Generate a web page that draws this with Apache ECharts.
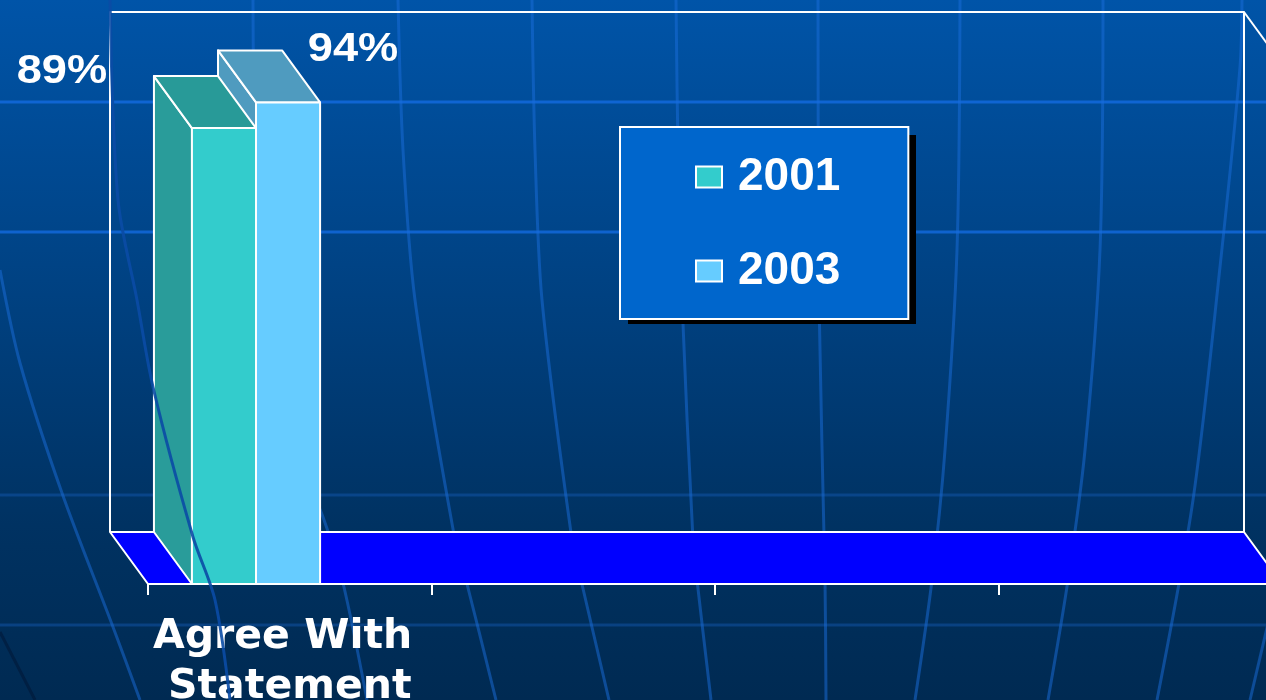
<!DOCTYPE html>
<html><head><meta charset="utf-8">
<script src="https://cdn.jsdelivr.net/npm/echarts@6/dist/echarts.min.js"></script>
<style>html,body{margin:0;padding:0;background:#002a52}#c{width:1266px;height:700px}</style>
</head><body><div id="c"></div>
<script>
// ---- data ----
const categories = ['Agree With Statement', '', '', ''];
const seriesNames = ['2001', '2003'];
const values2001 = [89, null, null, null];
const values2003 = [94, null, null, null];
const valueMax = 101.5;

// ---- styling ----
const DEPTH_X = -38, DEPTH_Y = -52;   // oblique 3D offset (front -> back)
const BAR_START = 0.155, BAR_W = 0.226;
const FONT = '"Liberation Sans", Arial, sans-serif';
const barStyles = [
  { front: '#33CCCC', top: '#289A98', side: '#299C9A', label: [-130, -56], z: 4 },
  { front: '#66CCFF', top: '#4F9BBF', side: '#4F9BBF', label: [97, -52], z: 3 }
];

function toData(vals) {
  return vals.map((v, i) => [i, v]).filter(d => d[1] != null);
}

function barRenderer(idx) {
  const st = barStyles[idx];
  return function (params, api) {
    const ci = api.value(0), v = api.value(1);
    const base = api.coord([ci, 0]);
    const top = api.coord([ci, v]);
    const bw = api.size([1, 0])[0];
    const x0 = base[0] - bw / 2 + (BAR_START + idx * BAR_W) * bw;
    const x1 = x0 + BAR_W * bw;
    const yb = base[1], yt = top[1];
    const dx = DEPTH_X, dy = DEPTH_Y;
    const line = { stroke: '#fff', lineWidth: 2, lineJoin: 'round' };
    return {
      type: 'group', children: [
        { type: 'polygon', shape: { points: [[x0, yt], [x0 + dx, yt + dy], [x0 + dx, yb + dy], [x0, yb]] }, style: Object.assign({ fill: st.side }, line) },
        { type: 'polygon', shape: { points: [[x0, yt], [x1, yt], [x1 + dx, yt + dy], [x0 + dx, yt + dy]] }, style: Object.assign({ fill: st.top }, line) },
        { type: 'rect', shape: { x: x0, y: yt, width: x1 - x0, height: yb - yt }, style: Object.assign({ fill: st.front }, line) },
        { type: 'text', x: x0 + st.label[0], y: yt + st.label[1], scaleX: 1.13, style: { text: v + '%', fill: '#fff', font: 'bold 40px ' + FONT, align: 'center', verticalAlign: 'middle' } }
      ]
    };
  };
}

function frameRenderer(params, api) {
  const n = categories.length;
  const bw = api.size([1, 0])[0];
  const a = api.coord([0, 0]), b = api.coord([n - 1, 0]);
  const xl = a[0] - bw / 2, xr = b[0] + bw / 2;
  const yb = a[1], yt = api.coord([0, valueMax])[1];
  const dx = DEPTH_X, dy = DEPTH_Y;
  const line = { stroke: '#fff', lineWidth: 2, lineJoin: 'round', fill: null };
  return {
    type: 'group', children: [
      { type: 'polygon', shape: { points: [[xl, yb], [xr, yb], [xr + dx, yb + dy], [xl + dx, yb + dy]] }, style: { fill: '#0000FF', stroke: '#fff', lineWidth: 2, lineJoin: 'round' } },
      { type: 'polyline', shape: { points: [[xl + dx, yb + dy], [xl + dx, yt + dy], [xr + dx, yt + dy], [xr + dx, yb + dy]] }, style: line },
      { type: 'line', shape: { x1: xr + dx, y1: yt + dy, x2: xr, y2: yt }, style: line }
    ]
  };
}

// ---- background decoration (slide globe grid) ----
const lineC = 'rgba(25,110,220,0.5)';
function curve(pts, color, w, z) {
  return { type: 'polyline', z: z || -5, shape: { points: pts, smooth: 0.3 }, style: { stroke: color || lineC, lineWidth: w || 3, fill: null } };
}
function hline(y, color) {
  return { type: 'line', z: -5, shape: { x1: 0, y1: y, x2: 1266, y2: y }, style: { stroke: color, lineWidth: 3 } };
}
const bgElements = [
  { type: 'rect', z: -20, shape: { x: 0, y: 0, width: 1266, height: 700 },
    style: { fill: new echarts.graphic.LinearGradient(0, 0, 0, 1, [
      { offset: 0, color: '#0054A8' }, { offset: 0.4, color: '#004283' },
      { offset: 0.75, color: '#003262' }, { offset: 1, color: '#002A52' }]) } },
  hline(102, 'rgba(20,110,230,0.75)'),
  hline(232, 'rgba(20,110,230,0.75)'),
  hline(495, 'rgba(20,90,180,0.45)'),
  hline(625, 'rgba(20,90,180,0.45)'),
  curve([[0, 270], [20, 363], [62, 493], [113, 627], [140, 700]]),
  curve([[0, 632], [35, 700]], 'rgba(0,20,50,0.5)'),
  curve([[253, 0], [256, 200], [268, 350], [295, 450], [323, 517], [343, 583], [367, 700]]),
  curve([[398, 0], [403, 150], [415, 300], [455, 540], [466, 580], [496, 700]]),
  curve([[532, 0], [535, 150], [542, 300], [572, 540], [581, 580], [609, 700]]),
  curve([[676, 0], [678, 150], [682, 300], [693, 540], [697, 580], [711, 700]]),
  curve([[818, 0], [819, 300], [825, 580], [826, 700]]),
  curve([[960, 0], [957, 250], [945, 450], [932, 580], [915, 700]]),
  curve([[1103, 0], [1100, 250], [1085, 450], [1068, 580], [1048, 700]]),
  curve([[1242, 0], [1240, 67], [1220, 267], [1193, 500], [1157, 700]]),
  curve([[1270, 615], [1250, 700]]),
  curve([[110, 0], [118, 200], [137, 300], [153, 387], [193, 537], [215, 600], [230, 700]], 'rgba(10,75,165,0.9)', 3, 50),
  // legend drop shadow
  { type: 'rect', z: 5, shape: { x: 628, y: 135, width: 288, height: 189 }, style: { fill: '#000' } }
];

const chart = echarts.init(document.getElementById('c'), null, { renderer: 'canvas' });
chart.setOption({
  animation: false,
  graphic: { elements: bgElements },
  grid: { left: 148, right: -16, top: 64, bottom: 116, containLabel: false, outerBoundsMode: 'none' },
  legend: {
    data: seriesNames, orient: 'vertical', left: 620, top: 127, z: 10,
    backgroundColor: '#0066CC', borderColor: '#fff', borderWidth: 2,
    padding: [27, 68, 25, 75], itemGap: 48, itemWidth: 26, itemHeight: 21, icon: 'rect',
    itemStyle: { borderColor: '#fff', borderWidth: 2 },
    textStyle: { color: '#fff', fontSize: 46, fontWeight: 'bold', fontFamily: FONT, lineHeight: 44, padding: [0, 0, 0, 11] }
  },
  xAxis: {
    type: 'category', data: categories, z: 6,
    axisLine: { show: true, lineStyle: { color: '#fff', width: 2 } },
    axisTick: { show: true, interval: 0, alignWithLabel: false, length: 11, lineStyle: { color: '#fff', width: 2 } },
    axisLabel: { interval: 0, color: '#fff', fontSize: 41, fontWeight: 'bold', fontFamily: '"DejaVu Sans", sans-serif', width: 290, overflow: 'break', lineHeight: 50, margin: 28 },
    splitLine: { show: false }
  },
  yAxis: { type: 'value', min: 0, max: valueMax, show: false },
  series: [
    { name: 'frame', type: 'custom', z: 1, clip: false, silent: true, renderItem: frameRenderer, data: [[0, 0]] },
    { name: seriesNames[0], type: 'custom', z: barStyles[0].z, clip: false, itemStyle: { color: barStyles[0].front }, renderItem: barRenderer(0), data: toData(values2001) },
    { name: seriesNames[1], type: 'custom', z: barStyles[1].z, clip: false, itemStyle: { color: barStyles[1].front }, renderItem: barRenderer(1), data: toData(values2003) }
  ]
});
</script></body></html>
